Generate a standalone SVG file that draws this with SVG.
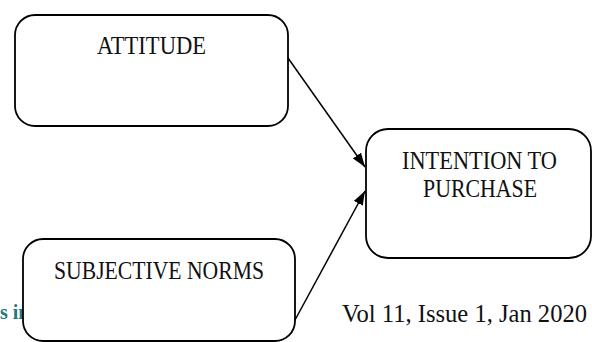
<svg xmlns="http://www.w3.org/2000/svg" width="592" height="342" viewBox="0 0 592 342">
<style>
.box{fill:#fff;stroke:#000;stroke-width:1.8}
.lbl{font-family:"Liberation Serif","Times New Roman",serif;font-size:25px;fill:#111;text-anchor:middle}
.edge{stroke:#000;stroke-width:1.5;fill:none;marker-end:url(#ah)}
</style>
<defs>
<marker id="ah" viewBox="0 0 14 10" refX="14" refY="5" markerWidth="14" markerHeight="10" markerUnits="userSpaceOnUse" orient="auto">
<path d="M0,0 L14,5 L0,10 Z" fill="#000"/>
</marker>
</defs>
<rect width="592" height="342" fill="#fff"/>
<g id="page-text">
<text x="0" y="319" font-family="Liberation Serif, serif" font-weight="bold" font-size="20" fill="#217a7c">s in</text>
<text x="342" y="322" font-family="Liberation Serif, serif" font-size="25" fill="#111" textLength="245" lengthAdjust="spacingAndGlyphs">Vol 11, Issue 1, Jan 2020</text>
</g>
<g id="attitude">
<rect class="box" x="15" y="15" width="273" height="111" rx="20"/>
<text class="lbl" x="151.5" y="54" textLength="109" lengthAdjust="spacingAndGlyphs">ATTITUDE</text>
</g>
<g id="intention">
<rect class="box" x="366" y="129" width="225" height="129" rx="22"/>
<text class="lbl" x="479.5" y="169" textLength="155" lengthAdjust="spacingAndGlyphs">INTENTION TO</text>
<text class="lbl" x="480" y="197" textLength="114" lengthAdjust="spacingAndGlyphs">PURCHASE</text>
</g>
<g id="subjective">
<rect class="box" x="23" y="239" width="272" height="102" rx="20"/>
<text class="lbl" x="159" y="279" textLength="210" lengthAdjust="spacingAndGlyphs">SUBJECTIVE NORMS</text>
</g>
<g id="connectors">
<line class="edge" x1="288" y1="58" x2="365" y2="167"/>
<line class="edge" x1="295" y1="320" x2="365" y2="191"/>
</g>
</svg>
